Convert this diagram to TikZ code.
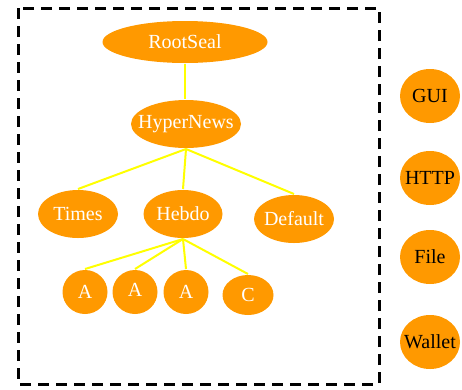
\documentclass[tikz,border=0pt]{standalone}
\usepackage{fontspec}
\setmainfont{Liberation Serif}
\usetikzlibrary{shapes.geometric}
\definecolor{sealorange}{RGB}{255,153,0}
\definecolor{linkyellow}{RGB}{255,255,0}

\begin{document}
\begin{tikzpicture}[x=1pt,y=-1pt,-,line width=2pt,node distance=82pt,
  main node/.style={ellipse,fill=sealorange,text=white,inner sep=-20pt,font=\fontsize{20}{24}\selectfont},
  leaf node/.style={main node,minimum width=45pt,minimum height=44pt},
  side node/.style={main node,text=black,minimum width=60pt,minimum height=54pt}]
  \useasboundingbox (0,0) rectangle (462,389);

  % the seal box
  \draw[line width=3pt,dash pattern=on 11pt off 7pt] (18,8) rectangle (379,384);

  \node[main node,minimum width=165pt,minimum height=42pt] (root) at (185,42) {RootSeal};
  \node[main node,minimum width=110pt,minimum height=48pt] (hypernews) at (186,124) {HyperNews};
  \node[main node,minimum width=80pt,minimum height=48pt] (times) at (78,214) {Times};
  \node[main node,minimum width=79pt,minimum height=48pt] (hebdo) at (183,214) {Hebdo};
  \node[main node,minimum width=80pt,minimum height=48pt] (default) at (294,219) {Default};

  \node[leaf node] (a1) at (85,292) {A};
  \node[leaf node] (a2) at (135,292) {\raisebox{5pt}{A}};
  \node[leaf node] (a3) at (186,292) {A};
  \node[leaf node,minimum width=51pt,minimum height=40pt] (c) at (248,295) {C};

  % services outside the box
  \node[side node] (gui) at (430,96) {GUI};
  \node[side node] (http) [below of=gui] {HTTP};
  \node[side node] (file) at (430,257) {File};
  \node[side node] (wallet) at (430,342) {Wallet};

  \path[draw=linkyellow]
    (root) edge (root |- hypernews.north)
    (hypernews.south) edge (times.north)
    (hypernews.south) edge (hebdo.north)
    (hypernews.south) edge (default.north)
    (hebdo.south) edge (a1.north)
    (hebdo.south) edge (a2.north)
    (hebdo.south) edge (a3.north)
    (hebdo.south) edge (c.north)
    ;
\end{tikzpicture}
\end{document}
